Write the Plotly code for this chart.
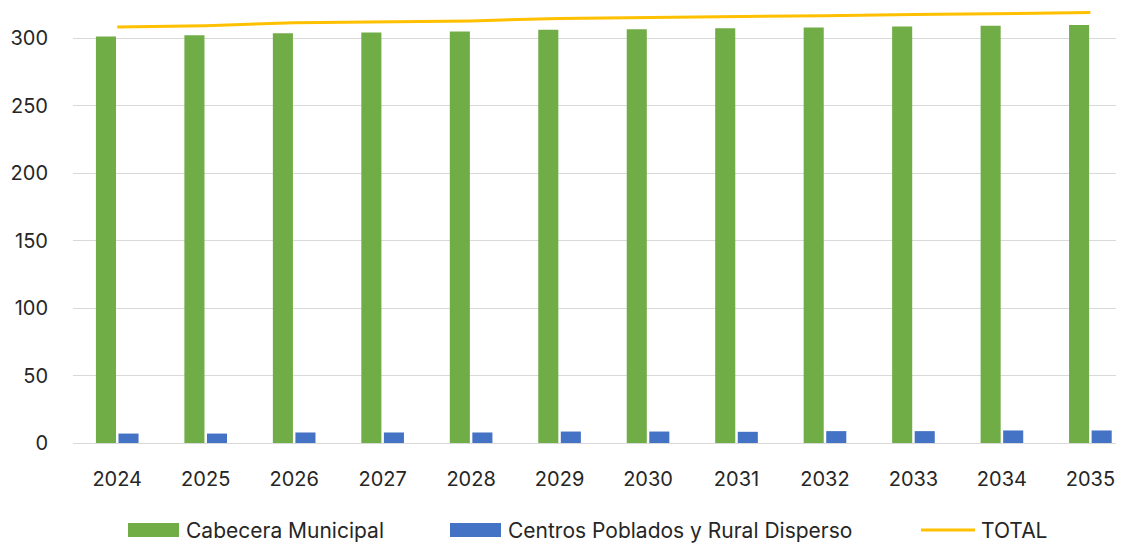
import plotly.graph_objects as go

years = ["2024", "2025", "2026", "2027", "2028", "2029", "2030", "2031", "2032", "2033", "2034", "2035"]
cabecera = [301.5, 302.4, 303.9, 304.4, 305.2, 306.4, 306.9, 307.6, 308.1, 308.9, 309.4, 309.9]
rural = [7.0, 7.0, 7.8, 7.8, 7.8, 8.5, 8.5, 8.3, 8.8, 8.8, 9.3, 9.3]
total = [c + r for c, r in zip(cabecera, rural)]
y_ticks = [0, 50, 100, 150, 200, 250, 300]

series_names = ["Cabecera Municipal", "Centros Poblados y Rural Disperso", "TOTAL"]
series_colors = ["#70AD47", "#4472C4", "#FFC000"]

FONT = "Inter, Lato, sans-serif"
OFF = 8  # default page body margin
W, H = 1124 - OFF, 543 - OFF
ML, MR, MT, MB = 65, 0, 0, 100
PW, PH = W - ML - MR, H - MT - MB

fig = go.Figure()
fig.add_trace(go.Bar(x=years, y=cabecera, name=series_names[0],
                     marker=dict(color=series_colors[0], line=dict(width=0))))
fig.add_trace(go.Bar(x=years, y=rural, name=series_names[1],
                     marker=dict(color=series_colors[1], line=dict(width=0))))
fig.add_trace(go.Scatter(x=years, y=total, name=series_names[2], mode="lines",
                         line=dict(color=series_colors[2], width=3)))

# custom legend (wide swatches like the original), page-pixel positions
def px_x(p):
    return (p - OFF - ML) / PW

def px_y(p):
    return (MT + PH - (p - OFF)) / PH

legend_y = 530
legend_items = [(128, 179, 184, "bar"), (450, 501, 506, "bar"), (921, 975, 979, "line")]
shapes = []
annotations = []
for (x0, x1, tx, kind), name, col in zip(legend_items, series_names, series_colors):
    if kind == "bar":
        shapes.append(dict(type="rect", xref="paper", yref="paper",
                           x0=px_x(x0), x1=px_x(x1), y0=px_y(legend_y + 7), y1=px_y(legend_y - 7),
                           fillcolor=col, line=dict(width=0)))
    else:
        shapes.append(dict(type="line", xref="paper", yref="paper",
                           x0=px_x(x0), x1=px_x(x1), y0=px_y(legend_y), y1=px_y(legend_y),
                           line=dict(color=col, width=3)))
    annotations.append(dict(text=name, xref="paper", yref="paper", x=px_x(tx), y=px_y(legend_y),
                            xanchor="left", yanchor="middle", showarrow=False,
                            font=dict(family=FONT, size=21, color="#262626")))

fig.update_layout(
    width=W, height=H,
    margin=dict(l=ML, r=MR, t=MT, b=MB),
    paper_bgcolor="white", plot_bgcolor="white",
    barmode="group", bargap=0.49, bargroupgap=0.11,
    font=dict(family=FONT, size=20, color="#262626"),
    showlegend=False,
    shapes=shapes, annotations=annotations,
)
fig.update_xaxes(type="category", range=[-0.5, 11.38], showgrid=False,
                 showline=True, linecolor="#D9D9D9", linewidth=1, automargin=False,
                 ticks="", ticklabelstandoff=18, tickfont=dict(size=20))
fig.update_yaxes(range=[0, 322.6], tickvals=y_ticks, showgrid=True,
                 gridcolor="#D9D9D9", gridwidth=1, zeroline=False, automargin=False,
                 ticks="", ticklabelstandoff=24, tickfont=dict(size=20))

fig.write_html("out.html")
